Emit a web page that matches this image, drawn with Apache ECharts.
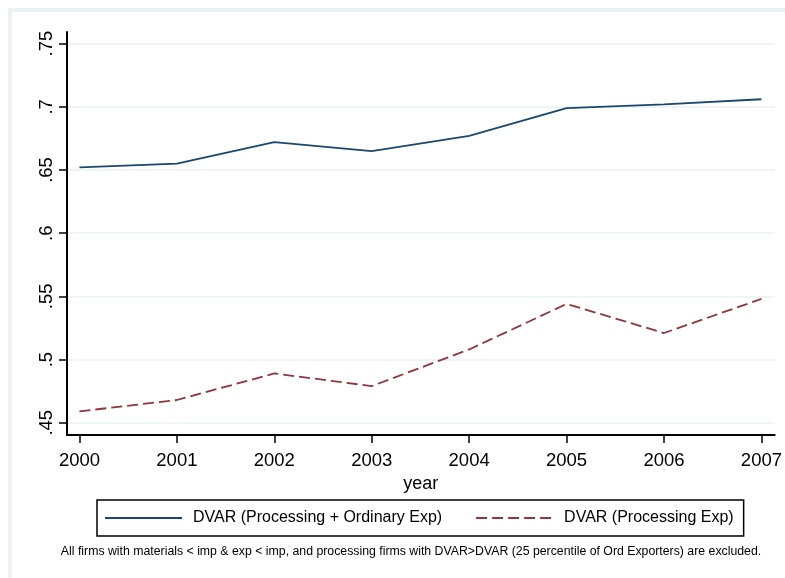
<!DOCTYPE html>
<html>
<head>
    <meta charset="utf-8">
    <style>
        html, body { margin: 0; padding: 0; background: #fff; }
        #chart-container { width: 785px; height: 578px; }
    </style>
</head>
<body>
    <div id="chart-container"></div>

    <script type="text/javascript" src="https://cdn.jsdelivr.net/npm/echarts@6.0.0/dist/echarts.min.js"></script>
    <script type="text/javascript">
        // data
        var years = [2000, 2001, 2002, 2003, 2004, 2005, 2006, 2007];
        var dvarAll = [0.652, 0.655, 0.672, 0.665, 0.677, 0.699, 0.702, 0.706];
        var dvarProc = [0.459, 0.468, 0.489, 0.479, 0.508, 0.544, 0.521, 0.548];
        var yTicks = [0.45, 0.5, 0.55, 0.6, 0.65, 0.7, 0.75];
        var seriesNames = ['DVAR (Processing + Ordinary Exp)', 'DVAR (Processing Exp)'];
        var note = 'All firms with materials < imp & exp < imp, and processing firms with DVAR>DVAR (25 percentile of Ord Exporters) are excluded.';

        var font = '"Liberation Sans", Arial, sans-serif';

        function pairs(xs, ys) {
            return xs.map(function (x, i) { return [x, ys[i]]; });
        }

        var chartDom = document.getElementById('chart-container');
        var myChart = echarts.init(chartDom, null, { renderer: 'canvas' });

        var option = {
            animation: false,
            backgroundColor: '#ffffff',
            grid: { left: 67, right: 10, top: 32, bottom: 143, containLabel: false },
            xAxis: {
                type: 'value',
                min: 1999.872,
                max: 2007.136,
                name: 'year',
                nameLocation: 'middle',
                nameGap: 34,
                nameTextStyle: { color: '#000', fontSize: 18, fontFamily: font },
                axisLine: { show: true, lineStyle: { color: '#000', width: 2 } },
                axisTick: { show: true, length: 8, lineStyle: { color: '#000', width: 1.5 }, customValues: years },
                axisLabel: {
                    color: '#000', fontSize: 18.5, fontFamily: font, margin: 16,
                    customValues: years,
                    formatter: function (v) { return String(Math.round(v)); }
                },
                splitLine: { show: false }
            },
            yAxis: {
                type: 'value',
                min: 0.4403,
                max: 0.7592,
                axisLine: { show: true, lineStyle: { color: '#000', width: 2 } },
                axisTick: { show: true, length: 8, lineStyle: { color: '#000', width: 1.5 }, customValues: yTicks },
                axisLabel: {
                    color: '#000', fontSize: 18.5, fontFamily: font, margin: 11, rotate: 90,
                    customValues: yTicks,
                    formatter: function (v) { return String(+v.toFixed(2)).replace(/^0/, ''); }
                },
                splitLine: { show: true, lineStyle: { color: '#eaf2f3', width: 1.5 } }
            },
            legend: {
                left: 97,
                top: 500,
                orient: 'horizontal',
                data: seriesNames,
                itemWidth: 77,
                itemHeight: 14,
                itemGap: 33,
                padding: [10, 10, 10, 7],
                borderColor: '#000',
                borderWidth: 1.5,
                borderRadius: 0,
                // hide the symbol drawn on the line icon
                itemStyle: { opacity: 0 },
                textStyle: { color: '#000', fontSize: 16, fontFamily: font, padding: [0, 0, 0, 6] }
            },
            graphic: [
                {
                    type: 'rect',
                    silent: true,
                    shape: { x: 10, y: 10, width: 800, height: 600 },
                    style: { fill: 'none', stroke: '#eaf2f3', lineWidth: 4 }
                },
                {
                    type: 'text',
                    silent: true,
                    x: 411,
                    y: 552,
                    style: {
                        text: note,
                        fill: '#000',
                        font: '12.3px ' + font,
                        textAlign: 'center',
                        textVerticalAlign: 'middle'
                    }
                }
            ],
            series: [
                {
                    name: seriesNames[0],
                    type: 'line',
                    data: pairs(years, dvarAll),
                    showSymbol: false,
                    symbol: 'none',
                    lineStyle: { color: '#1a476f', width: 1.8 },
                    itemStyle: { color: '#1a476f' }
                },
                {
                    name: seriesNames[1],
                    type: 'line',
                    data: pairs(years, dvarProc),
                    showSymbol: false,
                    symbol: 'none',
                    lineStyle: { color: '#90353b', width: 1.8, type: [11, 5] },
                    itemStyle: { color: '#90353b' }
                }
            ]
        };
        myChart.setOption(option);
    </script>
</body>
</html>
